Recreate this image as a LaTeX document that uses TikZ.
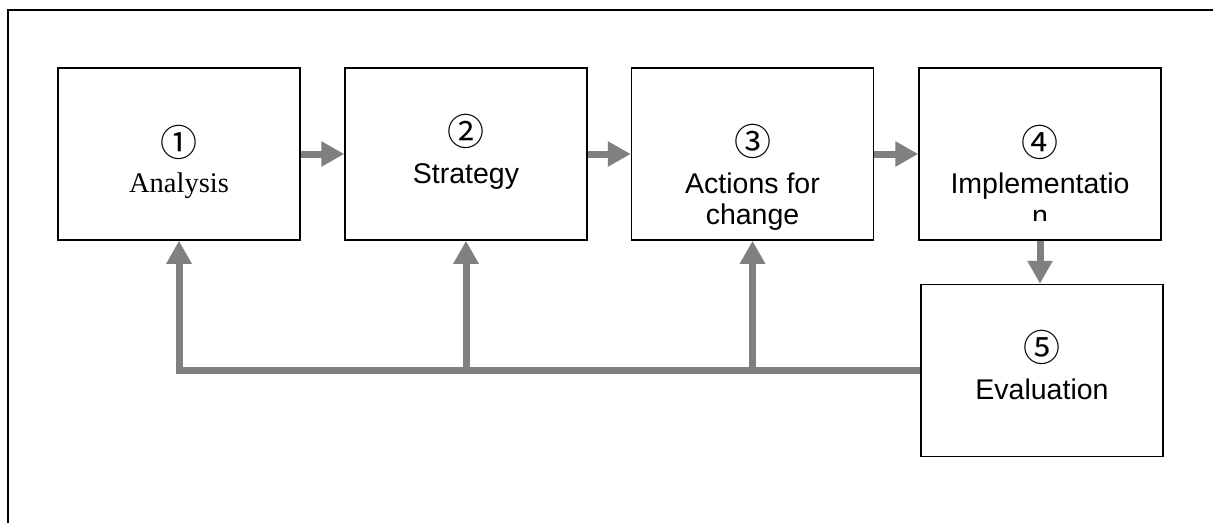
\documentclass[tikz,border=0pt]{standalone}
\usepackage{fontspec}
\setmainfont{Liberation Serif}
\newfontfamily\arialfont{Liberation Sans}
\newfontfamily\circfont{Noto Sans CJK SC}
\usetikzlibrary{positioning,calc,arrows.meta}
\definecolor{arrgray}{RGB}{128,128,128}

\begin{document}
\begin{tikzpicture}[x=1pt,y=-1pt,
    box/.style={draw, line width=1.5pt, minimum width=242pt, minimum height=172pt, inner sep=0pt},
    arr/.style={draw=arrgray, line width=7pt, -{Triangle[length=23pt,width=24pt]}},
    feed/.style={draw=arrgray, line width=7pt},
    numtxt/.style={inner sep=0pt, font=\circfont\fontsize{37}{40}\selectfont},
    sanstxt/.style={inner sep=0pt, anchor=base, font=\arialfont\fontsize{28.5}{32}\selectfont},
    serftxt/.style={inner sep=0pt, anchor=base, font=\fontsize{28.5}{32}\selectfont}]
    \useasboundingbox (0,0) rectangle (1213,523);
    \draw[line width=2pt] (8,523) -- (8,10) -- (1213,10);

    \node[box] (s1) at (179,154) {};
    \node[box] (s2) at (466,154) {};
    \node[box] (s3) at (752.5,154) {};
    \node[box] (s4) at (1040,154) {};
    \node[box] (s5) at (1042,370.5) {};

    \node[numtxt] (c1) at (179,142) {①};
    \node[serftxt] (l1) at (179,192) {Analysis};
    \node[numtxt] (c2) at (466,131) {②};
    \node[sanstxt] (l2) at (466,183) {Strategy};
    \node[numtxt] (c3) at (752.5,141) {③};
    \node[sanstxt] (l3a) at (752.5,193) {Actions for};
    \node[sanstxt] (l3b) at (752.5,224) {change};
    \node[numtxt] (c4) at (1040,142) {④};
    \node[sanstxt] (l4a) at (1040,193) {Implementatio};
    \begin{scope}
        \clip (919,68) rectangle (1161,220);
        \node[sanstxt] (l4b) at (1040,225) {n};
    \end{scope}
    \node[numtxt] (c5) at (1042,347) {⑤};
    \node[sanstxt] (l5) at (1042,399) {Evaluation};

    \draw[arr] (s1.east) -- (s2.west);
    \draw[arr] (s2.east) -- (s3.west);
    \draw[arr] (s3.east) -- (s4.west);
    \draw[arr] (s4.south) -- (s4.south |- s5.north);

    % feedback loop back to the first three steps
    \draw[feed] (s5.west) -- ($(s5.west -| s1.south)+(-3.5,0)$);
    \draw[arr] (s5.west -| s1.south) -- (s1.south);
    \draw[arr] (s5.west -| s2.south) -- (s2.south);
    \draw[arr] (s5.west -| s3.south) -- (s3.south);
\end{tikzpicture}
\end{document}
